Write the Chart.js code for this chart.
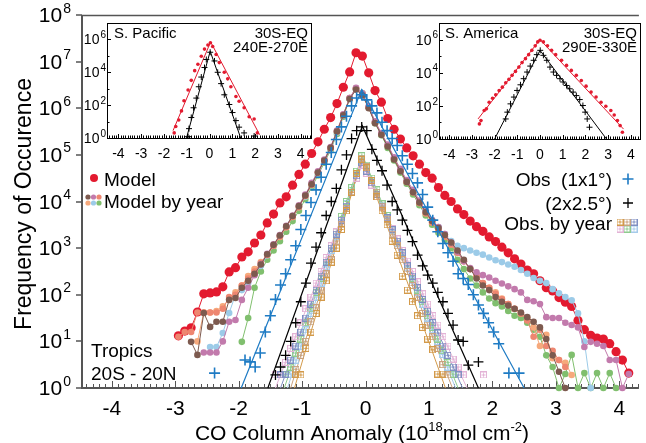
<!DOCTYPE html>
<html>
<head>
<meta charset="utf-8">
<script src="https://cdn.jsdelivr.net/npm/chart.js@4/dist/chart.umd.min.js"></script>
<style>
  html, body { margin: 0; padding: 0; background: #fff; }
  #wrap { position: relative; width: 646px; height: 443px; overflow: hidden; }
  #main { position: absolute; left: 0; top: 0; }
  #pac { position: absolute; left: 80px; top: 18px; }
  #sam { position: absolute; left: 410px; top: 18px; }
</style>
</head>
<body>
<div id="wrap">
  <canvas id="main" width="646" height="443"></canvas>
  <canvas id="pac" width="237" height="145"></canvas>
  <canvas id="sam" width="236" height="145"></canvas>
</div>
<script>
// ---- axes / ticks ----
const yTickExp = [0, 1, 2, 3, 4, 5, 6, 7, 8];
const xTickVals = [-4, -3, -2, -1, 0, 1, 2, 3, 4];
const insetYExp = [0, 2, 4, 6];
const insetXTicks = [-4, -3, -2, -1, 0, 1, 2, 3, 4];

// ---- model bins (values are log10 of frequency) ----
const modelX = [-2.95,-2.85,-2.75,-2.65,-2.55,-2.45,-2.35,-2.25,-2.15,-2.05,
  -1.95,-1.85,-1.75,-1.65,-1.55,-1.45,-1.35,-1.25,-1.15,-1.05,
  -0.95,-0.85,-0.75,-0.65,-0.55,-0.45,-0.35,-0.25,-0.15,-0.05,
  0.05,0.15,0.25,0.35,0.45,0.55,0.65,0.75,0.85,0.95,
  1.05,1.15,1.25,1.35,1.45,1.55,1.65,1.75,1.85,1.95,
  2.05,2.15,2.25,2.35,2.45,2.55,2.65,2.75,2.85,2.95,
  3.05,3.15,3.25,3.35,3.45,3.55,3.65,3.75,3.85,3.95,
  4.05,4.15];

const modelLog = [1.12,1.22,1.29,1.63,2.02,2.04,2.06,2.17,2.49,2.58,
  2.81,2.92,3.11,3.28,3.54,3.73,3.97,4.1,4.35,4.58,
  4.8,5.03,5.28,5.55,5.8,6.1,6.45,6.78,7.19,7.12,
  6.76,6.38,6.13,5.78,5.55,5.34,5.15,4.98,4.8,4.62,
  4.5,4.3,4.13,4.0,3.84,3.72,3.58,3.46,3.36,3.24,
  3.14,3.02,2.9,2.77,2.66,2.53,2.45,2.3,2.15,2.08,
  1.94,1.84,1.75,1.45,1.25,1.13,1.07,1.05,0.95,0.78,
  0.6,0.32];

const brownLog = [null,null,0.99,0.71,1.61,1.31,1.42,1.42,1.89,1.93,
  2.15,2.3,2.45,2.65,2.87,3.07,3.27,3.47,3.69,3.9,
  4.13,4.37,4.62,4.88,5.15,5.5,5.85,6.2,6.4,6.28,
  6.0,5.68,5.43,5.18,4.9,4.65,4.42,4.2,3.98,3.77,
  3.58,3.43,3.28,3.12,2.95,2.75,2.55,2.35,2.2,2.1,
  1.95,1.85,1.77,1.7,1.62,1.52,1.42,1.3,1.05,0.7,
  0.35,0,null,null,null,null,null,null,null,null,
  null,null];

const pinkLog = [null,null,null,null,0.76,0.76,0.76,1.0,1.42,1.46,
  1.89,2.15,2.42,2.66,2.88,3.08,3.28,3.48,3.7,3.92,
  4.15,4.4,4.65,4.9,5.17,5.52,5.87,6.22,6.44,6.32,
  6.04,5.72,5.47,5.22,4.95,4.7,4.46,4.25,4.02,3.8,
  3.6,3.45,3.3,3.12,2.92,2.72,2.57,2.48,2.42,2.37,
  2.3,2.24,2.18,2.12,2.05,1.89,1.86,1.8,1.52,1.5,
  1.5,1.4,1.35,1.3,0.88,0.99,0.95,0.9,0.6,0.6,
  0,0.3];

const salmonLog = [1.1,1.2,1.2,1.62,1.62,1.62,1.62,1.7,1.95,2.0,
  2.2,2.35,2.5,2.68,2.85,3.05,3.25,3.45,3.67,3.88,
  4.12,4.36,4.62,4.88,5.15,5.5,5.86,6.22,6.42,6.3,
  6.02,5.7,5.45,5.2,4.92,4.66,4.42,4.2,3.97,3.75,
  3.55,3.4,3.25,3.08,2.9,2.72,2.55,2.4,2.25,2.15,
  2.02,1.9,1.8,1.7,1.6,1.45,1.1,1.25,0.9,0.8,
  0.6,0.45,null,null,null,null,null,null,null,null,
  null,null];

const orangeLog = [null,null,null,1.0,1.62,1.62,1.65,1.75,1.9,2.05,
  2.2,2.4,2.55,2.7,2.86,3.05,3.24,3.45,3.67,3.88,
  4.12,4.36,4.62,4.88,5.15,5.5,5.86,6.22,6.43,6.3,
  6.02,5.7,5.45,5.2,4.92,4.66,4.42,4.2,3.97,3.75,
  3.55,3.4,3.25,3.08,2.9,2.72,2.55,2.4,2.25,2.15,
  2.05,1.92,1.8,1.7,1.6,1.5,1.3,0.9,1.14,0.64,
  0.6,0.54,0.28,null,null,null,null,null,null,null,
  null,null];

const lightBlueLog = [null,null,null,null,null,0.88,0.88,1.18,1.61,2.0,
  2.1,2.25,2.45,2.62,2.84,3.05,3.25,3.45,3.67,3.88,
  4.1,4.35,4.6,4.86,5.13,5.48,5.84,6.2,6.4,6.28,
  6.02,5.7,5.45,5.2,4.93,4.68,4.44,4.22,4.0,3.8,
  3.6,3.45,3.3,3.15,3.05,3.0,2.95,2.9,2.86,2.8,
  2.74,2.7,2.65,2.6,2.53,2.45,2.36,2.3,2.25,2.12,
  2.03,1.95,1.88,1.6,1.0,0,null,null,null,null,
  null,null];

const greenLog = [null,null,null,null,null,null,null,null,null,null,
  0.99,1.5,2.15,2.5,2.75,2.95,3.15,3.35,3.58,3.8,
  4.05,4.3,4.56,4.83,5.1,5.45,5.82,6.2,6.42,6.32,
  6.02,5.68,5.42,5.15,4.88,4.62,4.38,4.15,3.92,3.7,
  3.5,3.33,3.18,3.0,2.75,2.55,2.35,2.2,2.05,1.92,
  1.82,1.75,1.65,1.55,1.5,1.4,1.25,1.1,0.7,0.45,
  0,0.3,0.71,0,0.32,0,0.32,0,0.32,0,
  null,null];

// ---- observation bins ----
const obsX = [-2.38,-2.30,-2.22,-2.14,-2.06,-1.98,-1.90,-1.82,-1.74,-1.66,
  -1.58,-1.50,-1.42,-1.34,-1.26,-1.18,-1.10,-1.02,-0.94,-0.86,
  -0.78,-0.70,-0.62,-0.54,-0.46,-0.38,-0.30,-0.22,-0.14,-0.06,
  0.02,0.10,0.18,0.26,0.34,0.42,0.50,0.58,0.66,0.74,
  0.82,0.90,0.98,1.06,1.14,1.22,1.30,1.38,1.46,1.54,
  1.62,1.70,1.78,1.86,1.94,2.02,2.10,2.18,2.26,2.34,2.42];

const obs1x1Log = [0.32,null,null,null,null,null,0.6,0.56,0.45,0.75,
  1.2,1.55,1.9,2.21,2.45,2.75,3.05,3.4,3.7,3.98,
  4.25,4.52,4.8,5.05,5.33,5.6,5.83,6.05,6.22,6.29,
  6.18,6.05,5.9,5.7,5.52,5.35,5.2,4.98,4.8,4.6,
  4.4,4.15,3.88,3.6,3.35,3.1,2.9,2.72,2.45,2.35,
  2.22,2.0,1.78,1.6,1.4,1.2,0.95,null,0.32,null,0.32];

const obs2x25Log = [null,null,null,null,null,null,null,null,null,null,
  null,null,0.28,0.45,0.7,1.0,1.4,1.85,2.25,2.68,
  3.02,3.33,3.7,4.0,4.28,4.68,5.0,5.35,5.52,5.6,
  5.52,5.12,4.88,4.66,4.35,4.0,3.82,3.6,3.38,3.14,
  2.85,2.62,2.42,2.25,2.05,1.85,1.6,1.35,1.03,1.0,
  0.49,null,0.56,null,null,null,null,null,null,null,null];

const obsYr1Log = [null,null,null,null,null,null,null,null,null,null,
  null,null,null,null,null,null,0.3,0.28,0.85,1.2,
  1.6,1.95,2.3,2.7,3.0,3.4,3.8,4.2,4.6,4.9,
  4.72,4.45,4.1,3.8,3.5,3.15,2.85,2.4,2.1,1.85,
  1.55,1.3,1.05,0.82,0.3,0.3,null,null,null,null,
  null,null,null,null,null,null,null,null,null,null,null];

const obsYr2Log = [null,null,null,null,null,null,null,null,null,null,
  null,null,null,null,null,null,0.4,0.7,1.0,1.42,
  1.72,2.1,2.45,2.75,3.15,3.5,3.85,4.2,4.6,4.93,
  4.75,4.45,4.2,3.9,3.62,3.3,3.05,2.75,2.5,2.2,
  1.95,1.6,1.35,1.1,0.85,0.5,0.28,null,null,null,
  null,null,null,null,null,null,null,null,null,null,null];

const obsYr3Log = [null,null,null,null,null,null,null,null,null,null,
  null,null,null,0.28,0.3,0.6,0.9,1.2,1.5,1.8,
  2.1,2.4,2.7,3.0,3.3,3.6,3.9,4.2,4.55,4.83,
  4.65,4.4,4.15,3.9,3.65,3.4,3.15,2.9,2.62,2.4,
  2.15,1.9,1.65,1.4,1.18,0.9,0.7,0.45,0.28,null,
  null,null,null,null,null,null,null,null,null,null,null];

const obsYr4Log = [null,null,null,null,null,null,null,null,null,null,
  null,null,0.28,0.3,0.55,0.85,1.1,1.4,1.7,1.95,
  2.25,2.5,2.8,3.05,3.35,3.6,3.9,4.2,4.5,4.78,
  4.6,4.35,4.1,3.88,3.65,3.42,3.2,2.95,2.72,2.5,
  2.28,2.02,1.8,1.55,1.35,1.1,0.9,0.62,0.45,0.28,
  null,null,null,0.28,null,null,null,null,null,null,null];

const obsYr5Log = [null,null,null,null,null,null,null,null,null,null,
  null,null,null,null,0.28,0.45,0.75,1.05,1.4,1.7,
  2.05,2.35,2.7,3.0,3.35,3.68,4.0,4.3,4.65,4.98,
  4.78,4.5,4.25,3.95,3.7,3.42,3.15,2.88,2.62,2.35,
  2.1,1.85,1.55,1.3,1.05,0.8,0.55,0.3,null,null,
  null,null,null,null,null,null,null,null,null,null,null];

const obsYr6Log = [null,null,null,null,null,null,null,null,null,null,
  null,null,null,null,null,0.3,0.6,0.9,1.25,1.6,
  1.95,2.25,2.6,2.95,3.25,3.6,3.95,4.3,4.6,4.93,
  4.72,4.45,4.2,3.92,3.65,3.38,3.1,2.85,2.58,2.3,
  2.05,1.8,1.5,1.25,1.0,0.72,0.45,0.28,null,null,
  null,null,null,null,null,null,null,null,null,null,null];

// exponential fits: [left foot, apex, right foot]
const obs1x1FitX = [-1.96, -0.06, 2.5];
const obs1x1FitLog = [0, 6.4, 0];
const obs2x25FitX = [-1.54, -0.05, 1.78];
const obs2x25FitLog = [0, 5.62, 0];
const obsYrFitLeft = [-1.12, -1.18, -1.34, -1.42, -1.28, -1.23];
const obsYrFitPeak = [4.95, 4.95, 4.85, 4.8, 5.0, 4.95];
const obsYrFitRight = [1.26, 1.37, 1.53, 1.6, 1.46, 1.42];

// ---- inset: S. Pacific ----
const pacModelX = [-1.55,-1.48,-1.35,-1.23,-1.12,-0.94,-0.8,-0.65,-0.51,-0.36,-0.22,-0.07,0.04,
  0.14,0.29,0.43,0.65,0.8,0.94,1.16,1.3,1.52,1.74,1.96,2.1];
const pacModelLog = [0.31,0.7,1.1,1.65,2.27,2.92,3.51,4.1,4.49,4.98,5.41,5.66,5.8,
  5.57,5.08,4.59,4.0,3.6,3.12,2.53,2.24,1.84,1.29,1.16,0.31];
const pacObsX = [-0.94,-0.9,-0.8,-0.7,-0.58,-0.47,-0.36,-0.22,-0.14,0.03,
  0.22,0.36,0.51,0.65,0.87,1.01,1.16,1.3,1.52,1.96];
const pacObsLog = [0.08,0.57,1.25,1.84,2.43,3.12,3.71,4.29,4.78,5.22,
  4.69,4.0,3.31,2.63,2.04,1.55,1.06,0.66,0.31,0.12];
const pacModelFitX = [-1.6, 0.05, 2.2];
const pacModelFitLog = [0.45, 5.85, 0.2];
const pacObsFitX = [-1.01, 0.03, 1.37];
const pacObsFitLog = [0, 5.28, 0];

// ---- inset: S. America ----
const samModelX = [-2.67,-2.6,-2.46,-2.36,-2.24,-2.09,-1.95,-1.8,-1.66,-1.51,-1.37,-1.23,-1.08,-0.93,
  -0.79,-0.64,-0.5,-0.36,-0.21,-0.1,0.0,
  0.15,0.33,0.51,0.69,0.95,1.17,1.38,1.6,1.82,2.03,2.25,2.47,2.69,2.9,3.12,3.27,3.41,3.53,3.63];
const samModelLog = [0.91,1.11,1.72,1.82,2.22,2.46,2.67,2.93,3.13,3.39,3.6,3.84,4.08,4.34,
  4.61,4.85,5.09,5.35,5.62,5.86,5.96,
  5.86,5.62,5.35,5.09,4.75,4.44,4.14,3.84,3.53,3.19,2.83,2.53,2.22,1.98,1.72,1.45,1.11,0.81,0.41];
const samObsX = [-1.51,-1.44,-1.3,-1.15,-1.01,-0.86,-0.72,-0.57,-0.43,-0.28,-0.14,0.01,
  0.15,0.3,0.44,0.59,0.73,0.88,1.02,1.17,1.31,1.46,1.6,1.75,1.89,1.99,2.08,2.18];
const samObsLog = [1.21,1.62,2.12,2.53,2.93,3.27,3.64,4.04,4.4,4.75,5.09,5.35,
  5.05,4.75,4.34,4.04,3.84,3.64,3.44,3.23,3.03,2.83,2.62,2.38,2.02,1.62,1.21,0.71];
const samModelFitX = [-2.73, 0.0, 3.68];
const samModelFitLog = [1.21, 6.0, 0.6];
const samObsFitX = [-2.0, 0.0, 2.93];
const samObsFitLog = [0, 5.35, 0];

// ---- colours ----
const RED = '#e31a2f';
const BLUE = '#1e7bc4';
const yearColors = ['#7d5a4f', '#c27aac', '#ee8670', '#f6a97c', '#9ccbe8', '#80bf6e'];
const obsYearColors = ['#d39a4a', '#c9a27e', '#7f8fc2', '#e3b3d6', '#8fcb8f', '#a6cbea'];

const FONT = '"Liberation Sans", Arial, Helvetica, sans-serif';
const F = s => s + 'px ' + FONT;
Chart.defaults.font.family = FONT;

function pts(xs, logs) {
  const out = [];
  xs.forEach((x, i) => {
    if (logs[i] !== null && logs[i] !== undefined) out.push({ x: x, y: Math.pow(10, logs[i]) });
  });
  return out;
}

function boxCross(color) {
  const c = document.createElement('canvas');
  c.width = 7; c.height = 7;
  const g = c.getContext('2d');
  g.strokeStyle = color; g.lineWidth = 1;
  g.strokeRect(0.5, 0.5, 6, 6);
  g.beginPath();
  g.moveTo(3.5, 1.5); g.lineTo(3.5, 5.5);
  g.moveTo(1.5, 3.5); g.lineTo(5.5, 3.5);
  g.stroke();
  return c;
}
const obsYearIcons = obsYearColors.map(boxCross);

function drawPow(ctx, xRight, yBase, exp, big, small) {
  ctx.font = F(big);
  const wb = ctx.measureText('10').width;
  ctx.font = F(small);
  const we = ctx.measureText(exp).width;
  const x0 = xRight - wb - we - 1;
  ctx.textAlign = 'left';
  ctx.font = F(big);
  ctx.fillText('10', x0, yBase);
  ctx.font = F(small);
  ctx.fillText(exp, x0 + wb + 1, yBase - big * 0.45);
}

function drawCross(ctx, x, y, r, color, w) {
  ctx.strokeStyle = color; ctx.lineWidth = w;
  ctx.beginPath();
  ctx.moveTo(x - r, y); ctx.lineTo(x + r, y);
  ctx.moveTo(x, y - r); ctx.lineTo(x, y + r);
  ctx.stroke();
}

// ---- main chart datasets ----
const mainSets = [];
mainSets.push({ data: pts(obsX, obs1x1Log), showLine: false, pointStyle: 'cross', pointRadius: 5.5,
  pointBorderWidth: 1.6, borderColor: BLUE, backgroundColor: BLUE, order: 1 });
mainSets.push({ data: pts(obs1x1FitX, obs1x1FitLog), showLine: true, pointRadius: 0,
  borderColor: BLUE, borderWidth: 1.2, order: 2 });
mainSets.push({ data: pts(obsX, obs2x25Log), showLine: false, pointStyle: 'cross', pointRadius: 5,
  pointBorderWidth: 1.3, borderColor: '#000', backgroundColor: '#000', order: 3 });
mainSets.push({ data: pts(obs2x25FitX, obs2x25FitLog), showLine: true, pointRadius: 0,
  borderColor: '#000', borderWidth: 1.2, order: 4 });
[obsYr1Log, obsYr2Log, obsYr3Log, obsYr4Log, obsYr5Log, obsYr6Log].forEach((arr, k) => {
  mainSets.push({ data: pts(obsX, arr), showLine: false, pointStyle: obsYearIcons[k], pointRadius: 3.5,
    borderColor: obsYearColors[k], backgroundColor: obsYearColors[k], order: 5 });
  mainSets.push({ data: pts([obsYrFitLeft[k], -0.05, obsYrFitRight[k]], [0, obsYrFitPeak[k], 0]),
    showLine: true, pointRadius: 0, borderColor: obsYearColors[k], borderWidth: 1, order: 6 });
});
[brownLog, pinkLog, salmonLog, orangeLog, lightBlueLog, greenLog].forEach((arr, k) => {
  mainSets.push({ data: pts(modelX, arr), showLine: true, pointRadius: 3.3, pointBorderWidth: 0,
    pointBackgroundColor: yearColors[k], borderColor: yearColors[k], borderWidth: 1, order: 7 + k });
});
mainSets.push({ data: pts(modelX, modelLog), showLine: true, pointRadius: 4.6, pointBorderWidth: 0,
  pointBackgroundColor: RED, borderColor: RED, borderWidth: 1, order: 20 });
mainSets.forEach(d => { d.clip = false; });

const mainDecor = {
  id: 'mainDecor',
  beforeDatasetsDraw(chart) {
    const { ctx, chartArea: a, scales: { x, y } } = chart;
    ctx.save();
    ctx.strokeStyle = '#555';
    ctx.lineWidth = 2;
    ctx.beginPath();
    ctx.moveTo(a.left, a.top); ctx.lineTo(a.left, a.bottom); ctx.lineTo(a.right, a.bottom);
    ctx.stroke();
    ctx.lineWidth = 1.5;
    ctx.beginPath(); ctx.moveTo(a.left, a.top + 0.5); ctx.lineTo(a.right, a.top + 0.5); ctx.stroke();
    ctx.lineWidth = 1;
    for (let k = -44; k <= 43; k++) {
      const px = Math.round(x.getPixelForValue(k / 10)) + 0.5;
      const len = k % 10 === 0 ? 7 : 4;
      ctx.beginPath(); ctx.moveTo(px, a.bottom); ctx.lineTo(px, a.bottom - len); ctx.stroke();
    }
    ctx.lineWidth = 1.5;
    yTickExp.forEach(e => {
      const py = Math.round(y.getPixelForValue(Math.pow(10, e)));
      ctx.beginPath(); ctx.moveTo(a.left - 6, py); ctx.lineTo(a.left, py); ctx.stroke();
    });
    ctx.restore();
  },
  afterDraw(chart) {
    const { ctx, chartArea: a, scales: { x, y } } = chart;
    ctx.save();
    ctx.fillStyle = '#000';
    ctx.textBaseline = 'alphabetic';
    // y tick labels
    yTickExp.forEach(e => {
      const py = y.getPixelForValue(Math.pow(10, e));
      drawPow(ctx, 71, py + 7, String(e), 21, 14);
    });
    // x tick labels
    ctx.font = F(21);
    ctx.textAlign = 'center';
    xTickVals.forEach(v => {
      ctx.fillText(v < 0 ? '-' + Math.abs(v) : String(v), x.getPixelForValue(v), 415);
    });
    // x title
    const parts = [['CO Column Anomaly (10', 21, 0], ['18', 13, -9], ['mol cm', 21, 0], ['-2', 13, -9], [')', 21, 0]];
    let total = 0;
    parts.forEach(p => { ctx.font = F(p[1]); total += ctx.measureText(p[0]).width; });
    let cx = 362 - total / 2;
    ctx.textAlign = 'left';
    parts.forEach(p => { ctx.font = F(p[1]); ctx.fillText(p[0], cx, 440 + p[2]); cx += ctx.measureText(p[0]).width; });
    // y title
    ctx.save();
    ctx.translate(31, 204);
    ctx.rotate(-Math.PI / 2);
    ctx.font = F(23);
    ctx.textAlign = 'center';
    ctx.fillText('Frequency of Occurence', 0, 0);
    ctx.restore();
    // left legend
    ctx.fillStyle = RED;
    ctx.beginPath(); ctx.arc(94, 178, 4, 0, Math.PI * 2); ctx.fill();
    const icon = [[88, 197], [93.5, 197], [99, 197], [88, 203], [93.5, 203], [99, 203]];
    icon.forEach((p, k) => {
      ctx.fillStyle = yearColors[k];
      ctx.beginPath(); ctx.arc(p[0], p[1], 2.6, 0, Math.PI * 2); ctx.fill();
    });
    ctx.fillStyle = '#000';
    ctx.font = F(19);
    ctx.textAlign = 'left';
    ctx.fillText('Model', 104, 186);
    ctx.fillText('Model by year', 104, 208);
    // right legend
    ctx.textAlign = 'right';
    ctx.fillText('Obs  (1x1\u00b0)', 612, 186);
    ctx.fillText('(2x2.5\u00b0)', 612, 210);
    ctx.fillText('Obs. by year', 612, 230);
    drawCross(ctx, 628, 179, 5.5, BLUE, 1.6);
    drawCross(ctx, 628, 203, 5, '#000', 1.3);
    const grid = [[620, 222], [627, 222], [634, 222], [620, 229], [627, 229], [634, 229]];
    grid.forEach((p, k) => ctx.drawImage(obsYearIcons[k], p[0] - 3.5, p[1] - 3.5));
    // region label
    ctx.fillStyle = '#000';
    ctx.textAlign = 'left';
    ctx.font = F(19);
    ctx.fillText('Tropics', 91, 357);
    ctx.fillText('20S - 20N', 91, 380);
    ctx.restore();
  }
};

new Chart(document.getElementById('main'), {
  type: 'scatter',
  data: { datasets: mainSets },
  options: {
    responsive: false, animation: false, devicePixelRatio: 1,
    layout: { padding: { top: 15, right: 0, left: 0, bottom: 0 } },
    plugins: { legend: { display: false }, tooltip: { enabled: false } },
    scales: {
      x: { type: 'linear', min: -4.47, max: 4.31, ticks: { display: false }, grid: { display: false },
        border: { display: false }, afterFit: s => { s.height = 55; } },
      y: { type: 'logarithmic', min: 1, max: 1e8, ticks: { display: false }, grid: { display: false },
        border: { display: false }, afterFit: s => { s.width = 82; } }
    }
  },
  plugins: [mainDecor]
});

// ---- insets ----
const insetDecor = {
  id: 'insetDecor',
  beforeDatasetsDraw(chart) {
    const { ctx, chartArea: a, scales: { x, y } } = chart;
    ctx.save();
    ctx.fillStyle = '#fff';
    ctx.fillRect(a.left, a.top, a.right - a.left, a.bottom - a.top);
    ctx.strokeStyle = '#000';
    ctx.lineWidth = 1;
    ctx.strokeRect(a.left + 0.5, a.top + 0.5, a.right - a.left - 1, a.bottom - a.top);
    for (let k = -44; k <= 44; k++) {
      const v = k / 10;
      if (v < x.min || v > x.max) continue;
      const px = Math.round(x.getPixelForValue(v)) + 0.5;
      const len = k % 10 === 0 ? 4 : 2.5;
      ctx.beginPath(); ctx.moveTo(px, a.bottom); ctx.lineTo(px, a.bottom - len); ctx.stroke();
    }
    for (let e = 0; e <= 6; e++) {
      const py = Math.round(y.getPixelForValue(Math.pow(10, e))) + 0.5;
      ctx.beginPath(); ctx.moveTo(a.left, py); ctx.lineTo(a.left + (e % 2 === 0 ? 4 : 2.5), py); ctx.stroke();
    }
    ctx.restore();
  },
  afterDraw(chart) {
    const { ctx, chartArea: a, scales: { x, y } } = chart;
    const t = chart.options.plugins.insetDecor;
    ctx.save();
    ctx.fillStyle = '#000';
    insetYExp.forEach(e => {
      drawPow(ctx, a.left - 1, y.getPixelForValue(Math.pow(10, e)) + 5, String(e), 14, 10);
    });
    ctx.font = F(14);
    ctx.textAlign = 'center';
    insetXTicks.forEach(v => {
      ctx.fillText(v < 0 ? '-' + Math.abs(v) : String(v), x.getPixelForValue(v), a.bottom + 20);
    });
    ctx.font = F(15);
    ctx.textAlign = 'left';
    ctx.fillText(t.name, a.left + t.nameDx, a.top + 15);
    ctx.textAlign = 'right';
    ctx.fillText('30S-EQ', a.right - 4, a.top + 15);
    ctx.fillText(t.lon, a.right - 4, a.top + 29);
    ctx.restore();
  }
};

function insetSets(mx, ml, ox, ol, mfx, mfl, ofx, ofl) {
  return [
    { data: pts(ox, ol), showLine: false, pointStyle: 'cross', pointRadius: 3, pointBorderWidth: 1,
      borderColor: '#000', backgroundColor: '#000', order: 1 },
    { data: pts(ofx, ofl), showLine: true, pointRadius: 0, borderColor: '#000', borderWidth: 1, order: 2 },
    { data: pts(mx, ml), showLine: false, pointRadius: 1.8, pointBorderWidth: 0,
      pointBackgroundColor: RED, order: 3 },
    { data: pts(mfx, mfl), showLine: true, pointRadius: 0, borderColor: RED, borderWidth: 1, order: 4 }
  ];
}

function insetChart(id, o) {
  return new Chart(document.getElementById(id), {
    type: 'scatter',
    data: { datasets: o.datasets },
    options: {
      responsive: false, animation: false, devicePixelRatio: 1,
      layout: { padding: { top: 5, right: o.padRight, left: 0, bottom: 0 } },
      plugins: { legend: { display: false }, tooltip: { enabled: false }, insetDecor: o.text },
      scales: {
        x: { type: 'linear', min: o.xMin, max: o.xMax, ticks: { display: false }, grid: { display: false },
          border: { display: false }, afterFit: s => { s.height = o.xAxisH; } },
        y: { type: 'logarithmic', min: 1, max: 1e7, ticks: { display: false }, grid: { display: false },
          border: { display: false }, afterFit: s => { s.width = o.yAxisW; } }
      }
    },
    plugins: [insetDecor]
  });
}

insetChart('pac', {
  xMin: -4.5, xMax: 4.5, yAxisW: 27, padRight: 3, xAxisH: 25,
  text: { name: 'S. Pacific', nameDx: 7, lon: '240E-270E' },
  datasets: insetSets(pacModelX, pacModelLog, pacObsX, pacObsLog, pacModelFitX, pacModelFitLog, pacObsFitX, pacObsFitLog)
});
insetChart('sam', {
  xMin: -4.45, xMax: 4.45, yAxisW: 29, padRight: 2, xAxisH: 24,
  text: { name: 'S. America', nameDx: 6, lon: '290E-330E' },
  datasets: insetSets(samModelX, samModelLog, samObsX, samObsLog, samModelFitX, samModelFitLog, samObsFitX, samObsFitLog)
});
</script>
</body>
</html>
